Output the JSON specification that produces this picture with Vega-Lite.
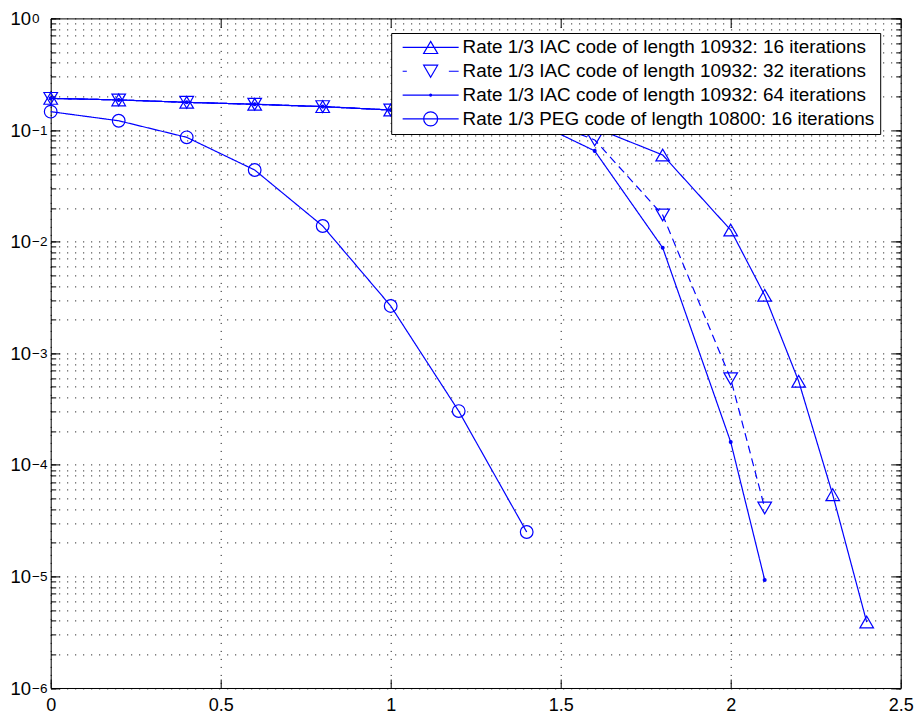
{
  "$schema": "https://vega.github.io/schema/vega-lite/v6.json",
  "width": 850,
  "height": 669.6,
  "autosize": {"type": "none"},
  "padding": {"left": 50.7, "top": 18.4, "right": 13.3, "bottom": 27},
  "background": "white",
  "config": {
    "view": {"stroke": "#000", "strokeWidth": 1},
    "axis": {"labelFont": "Liberation Sans", "labelColor": "#000", "tickColor": "#000", "tickWidth": 1, "domain": false}
  },
  "data": {
    "values": [
      {"s": "Rate 1/3 IAC code of length 10932: 16 iterations", "x": 0, "y": 0.192},
      {"s": "Rate 1/3 IAC code of length 10932: 16 iterations", "x": 0.2, "y": 0.186},
      {"s": "Rate 1/3 IAC code of length 10932: 16 iterations", "x": 0.4, "y": 0.177},
      {"s": "Rate 1/3 IAC code of length 10932: 16 iterations", "x": 0.6, "y": 0.17},
      {"s": "Rate 1/3 IAC code of length 10932: 16 iterations", "x": 0.8, "y": 0.162},
      {"s": "Rate 1/3 IAC code of length 10932: 16 iterations", "x": 1.0, "y": 0.151},
      {"s": "Rate 1/3 IAC code of length 10932: 16 iterations", "x": 1.2, "y": 0.146},
      {"s": "Rate 1/3 IAC code of length 10932: 16 iterations", "x": 1.4, "y": 0.14},
      {"s": "Rate 1/3 IAC code of length 10932: 16 iterations", "x": 1.6, "y": 0.105},
      {"s": "Rate 1/3 IAC code of length 10932: 16 iterations", "x": 1.8, "y": 0.0597},
      {"s": "Rate 1/3 IAC code of length 10932: 16 iterations", "x": 2.0, "y": 0.0127},
      {"s": "Rate 1/3 IAC code of length 10932: 16 iterations", "x": 2.1, "y": 0.0033},
      {"s": "Rate 1/3 IAC code of length 10932: 16 iterations", "x": 2.2, "y": 0.00056},
      {"s": "Rate 1/3 IAC code of length 10932: 16 iterations", "x": 2.3, "y": 0.000054},
      {"s": "Rate 1/3 IAC code of length 10932: 16 iterations", "x": 2.4, "y": 0.0000039},
      {"s": "Rate 1/3 IAC code of length 10932: 32 iterations", "x": 0, "y": 0.192},
      {"s": "Rate 1/3 IAC code of length 10932: 32 iterations", "x": 0.2, "y": 0.186},
      {"s": "Rate 1/3 IAC code of length 10932: 32 iterations", "x": 0.4, "y": 0.177},
      {"s": "Rate 1/3 IAC code of length 10932: 32 iterations", "x": 0.6, "y": 0.17},
      {"s": "Rate 1/3 IAC code of length 10932: 32 iterations", "x": 0.8, "y": 0.162},
      {"s": "Rate 1/3 IAC code of length 10932: 32 iterations", "x": 1.0, "y": 0.151},
      {"s": "Rate 1/3 IAC code of length 10932: 32 iterations", "x": 1.2, "y": 0.146},
      {"s": "Rate 1/3 IAC code of length 10932: 32 iterations", "x": 1.4, "y": 0.14},
      {"s": "Rate 1/3 IAC code of length 10932: 32 iterations", "x": 1.6, "y": 0.0815},
      {"s": "Rate 1/3 IAC code of length 10932: 32 iterations", "x": 1.8, "y": 0.0173},
      {"s": "Rate 1/3 IAC code of length 10932: 32 iterations", "x": 2.0, "y": 0.00059},
      {"s": "Rate 1/3 IAC code of length 10932: 32 iterations", "x": 2.1, "y": 0.000041},
      {"s": "Rate 1/3 IAC code of length 10932: 64 iterations", "x": 0, "y": 0.192},
      {"s": "Rate 1/3 IAC code of length 10932: 64 iterations", "x": 0.2, "y": 0.186},
      {"s": "Rate 1/3 IAC code of length 10932: 64 iterations", "x": 0.4, "y": 0.177},
      {"s": "Rate 1/3 IAC code of length 10932: 64 iterations", "x": 0.6, "y": 0.17},
      {"s": "Rate 1/3 IAC code of length 10932: 64 iterations", "x": 0.8, "y": 0.162},
      {"s": "Rate 1/3 IAC code of length 10932: 64 iterations", "x": 1.0, "y": 0.151},
      {"s": "Rate 1/3 IAC code of length 10932: 64 iterations", "x": 1.2, "y": 0.145},
      {"s": "Rate 1/3 IAC code of length 10932: 64 iterations", "x": 1.4, "y": 0.128},
      {"s": "Rate 1/3 IAC code of length 10932: 64 iterations", "x": 1.6, "y": 0.065},
      {"s": "Rate 1/3 IAC code of length 10932: 64 iterations", "x": 1.8, "y": 0.0088},
      {"s": "Rate 1/3 IAC code of length 10932: 64 iterations", "x": 2.0, "y": 0.00016},
      {"s": "Rate 1/3 IAC code of length 10932: 64 iterations", "x": 2.1, "y": 0.0000093},
      {"s": "Rate 1/3 PEG code of length 10800: 16 iterations", "x": 0, "y": 0.146},
      {"s": "Rate 1/3 PEG code of length 10800: 16 iterations", "x": 0.2, "y": 0.121},
      {"s": "Rate 1/3 PEG code of length 10800: 16 iterations", "x": 0.4, "y": 0.086},
      {"s": "Rate 1/3 PEG code of length 10800: 16 iterations", "x": 0.6, "y": 0.0438},
      {"s": "Rate 1/3 PEG code of length 10800: 16 iterations", "x": 0.8, "y": 0.0138},
      {"s": "Rate 1/3 PEG code of length 10800: 16 iterations", "x": 1.0, "y": 0.00265},
      {"s": "Rate 1/3 PEG code of length 10800: 16 iterations", "x": 1.2, "y": 0.000303},
      {"s": "Rate 1/3 PEG code of length 10800: 16 iterations", "x": 1.4, "y": 0.000025}
    ]
  },
  "resolve": {"axis": {"x": "independent", "y": "independent"}, "scale": {"shape": "independent"}},
  "layer": [
    {
      "mark": {"type": "line", "strokeWidth": 1.2, "stroke": "#0000ff"},
      "encoding": {
        "x": {"field": "x", "type": "quantitative", "scale": {"domain": [0, 2.5], "nice": false, "zero": false},
          "axis": {"orient": "bottom", "values": [0, 0.5, 1, 1.5, 2, 2.5], "format": "~g", "grid": true, "gridColor": "#000", "gridDash": [1, 7], "gridWidth": 1, "tickSize": -9, "labelFontSize": 18, "labelPadding": 17.5, "labelFlush": false, "labelOverlap": false, "title": null}},
        "y": {"field": "y", "type": "quantitative", "scale": {"type": "log", "domain": [0.000001, 1], "nice": false},
          "axis": {"orient": "left", "values": [0.000001,0.000002,0.000003,0.000004,0.000005,0.000006,0.000007,0.000008,0.000009,0.00001,0.00002,0.00003,0.00004,0.00005,0.00006,0.00007,0.00008,0.00009,0.0001,0.0002,0.0003,0.0004,0.0005,0.0006,0.0007,0.0008,0.0009,0.001,0.002,0.003,0.004,0.005,0.006,0.007,0.008,0.009,0.01,0.02,0.03,0.04,0.05,0.06,0.07,0.08,0.09,0.1,0.2,0.3,0.4,0.5,0.6,0.7,0.8,0.9,1], "grid": true, "gridColor": "#000", "gridDash": [1, 7], "gridWidth": 1, "tickSize": -5, "labels": false, "title": null}},
        "detail": {"field": "s", "type": "nominal"},
        "strokeDash": {"field": "s", "type": "nominal",
          "scale": {"domain": ["Rate 1/3 IAC code of length 10932: 16 iterations", "Rate 1/3 IAC code of length 10932: 32 iterations", "Rate 1/3 IAC code of length 10932: 64 iterations", "Rate 1/3 PEG code of length 10800: 16 iterations"], "range": [[1, 0], [8, 5], [1, 0], [1, 0]]},
          "legend": null}
      }
    },
    {
      "mark": {"type": "point", "stroke": "#0000ff", "strokeWidth": 1.2, "opacity": 1},
      "encoding": {
        "x": {"field": "x", "type": "quantitative", "scale": {"domain": [0, 2.5], "nice": false, "zero": false},
          "axis": {"orient": "top", "values": [0, 0.5, 1, 1.5, 2, 2.5], "grid": false, "tickSize": -9, "labels": false, "title": null}},
        "y": {"field": "y", "type": "quantitative", "scale": {"type": "log", "domain": [0.000001, 1], "nice": false},
          "axis": {"orient": "left", "values": [0.000001, 0.00001, 0.0001, 0.001, 0.01, 0.1, 1], "grid": false, "tickSize": -9, "labelExpr": "'10'", "labelAlign": "left", "labelBaseline": "middle", "labelPadding": 49.7, "labelFontSize": 18.5, "labelDy": 2, "labelOverlap": false, "labelFlush": false, "title": null}},
        "shape": {"field": "s", "type": "nominal",
          "scale": {"domain": ["Rate 1/3 IAC code of length 10932: 16 iterations", "Rate 1/3 IAC code of length 10932: 32 iterations", "Rate 1/3 IAC code of length 10932: 64 iterations", "Rate 1/3 PEG code of length 10800: 16 iterations"], "range": ["triangle-up", "triangle-down", "circle", "circle"]},
          "legend": null},
        "size": {"field": "s", "type": "ordinal",
          "scale": {"type": "ordinal", "domain": ["Rate 1/3 IAC code of length 10932: 16 iterations", "Rate 1/3 IAC code of length 10932: 32 iterations", "Rate 1/3 IAC code of length 10932: 64 iterations", "Rate 1/3 PEG code of length 10800: 16 iterations"], "range": [185, 185, 8, 160]},
          "legend": null},
        "fill": {"field": "s", "type": "nominal",
          "scale": {"domain": ["Rate 1/3 IAC code of length 10932: 16 iterations", "Rate 1/3 IAC code of length 10932: 32 iterations", "Rate 1/3 IAC code of length 10932: 64 iterations", "Rate 1/3 PEG code of length 10800: 16 iterations"], "range": ["transparent", "transparent", "#0000ff", "transparent"]},
          "legend": null}
      }
    },
    {
      "transform": [{"filter": "false"}],
      "mark": {"type": "point", "stroke": "#0000ff", "filled": false, "strokeWidth": 1.2, "opacity": 1},
      "encoding": {
        "x": {"field": "x", "type": "quantitative", "scale": {"domain": [0, 2.5], "nice": false, "zero": false}, "axis": null},
        "y": {"field": "y", "type": "quantitative", "scale": {"type": "log", "domain": [0.000001, 1], "nice": false},
          "axis": {"orient": "left", "values": [0.000001, 0.00001, 0.0001, 0.001, 0.01, 0.1, 1], "grid": false, "ticks": false, "tickSize": 0, "labelExpr": "replace(toString(round(log(datum.value)/LN10)),'-','−')", "labelAlign": "left", "labelBaseline": "middle", "labelPadding": 19.2, "labelFontSize": 13.5, "labelDy": -8.5, "labelOverlap": false, "labelFlush": false, "title": null}},
        "shape": {"field": "s", "type": "nominal",
          "scale": {"domain": ["Rate 1/3 IAC code of length 10932: 16 iterations", "Rate 1/3 IAC code of length 10932: 32 iterations", "Rate 1/3 IAC code of length 10932: 64 iterations", "Rate 1/3 PEG code of length 10800: 16 iterations"],
            "range": ["M-1,0L7,0M3,-0.866L4,0.866L2,0.866Z", "M-1,0L-0.4,0M5.6,0L7,0M3,0.866L4,-0.866L2,-0.866Z", "M-1,0L7,0M3.15,0A0.15,0.15,0,1,1,2.85,0A0.15,0.15,0,1,1,3.15,0", "M-1,0L7,0M4,0A1,1,0,1,1,2,0A1,1,0,1,1,4,0"]},
          "legend": {
            "title": null, "orient": "none", "legendX": 340.5, "legendY": 14.6,
            "padding": 5, "fillColor": "white", "strokeColor": "#000",
            "symbolSize": 196, "symbolStrokeWidth": 1.2, "symbolOffset": 4,
            "symbolStrokeColor": "#0000ff", "symbolFillColor": "transparent", "symbolOpacity": 1,
            "labelOffset": 43.5, "labelFont": "Liberation Sans", "labelFontSize": 18.9, "labelColor": "#000", "labelLimit": 1000,
            "rowPadding": 3.8
          }}
      }
    },
    {
      "transform": [{"filter": "false"}],
      "mark": {"type": "point", "opacity": 0},
      "encoding": {
        "x": {"field": "x", "type": "quantitative", "scale": {"domain": [0, 2.5], "nice": false, "zero": false}, "axis": null},
        "y": {"field": "y", "type": "quantitative", "scale": {"type": "log", "domain": [0.000001, 1], "nice": false},
          "axis": {"orient": "right", "values": [0.000001,0.000002,0.000003,0.000004,0.000005,0.000006,0.000007,0.000008,0.000009,0.00001,0.00002,0.00003,0.00004,0.00005,0.00006,0.00007,0.00008,0.00009,0.0001,0.0002,0.0003,0.0004,0.0005,0.0006,0.0007,0.0008,0.0009,0.001,0.002,0.003,0.004,0.005,0.006,0.007,0.008,0.009,0.01,0.02,0.03,0.04,0.05,0.06,0.07,0.08,0.09,0.1,0.2,0.3,0.4,0.5,0.6,0.7,0.8,0.9,1], "grid": false, "tickSize": -5, "labels": false, "title": null}}
      }
    },
    {
      "transform": [{"filter": "false"}],
      "mark": {"type": "point", "opacity": 0},
      "encoding": {
        "x": {"field": "x", "type": "quantitative", "scale": {"domain": [0, 2.5], "nice": false, "zero": false}, "axis": null},
        "y": {"field": "y", "type": "quantitative", "scale": {"type": "log", "domain": [0.000001, 1], "nice": false},
          "axis": {"orient": "right", "values": [0.000001, 0.00001, 0.0001, 0.001, 0.01, 0.1, 1], "grid": false, "tickSize": -9, "labels": false, "title": null}}
      }
    }
  ]
}
